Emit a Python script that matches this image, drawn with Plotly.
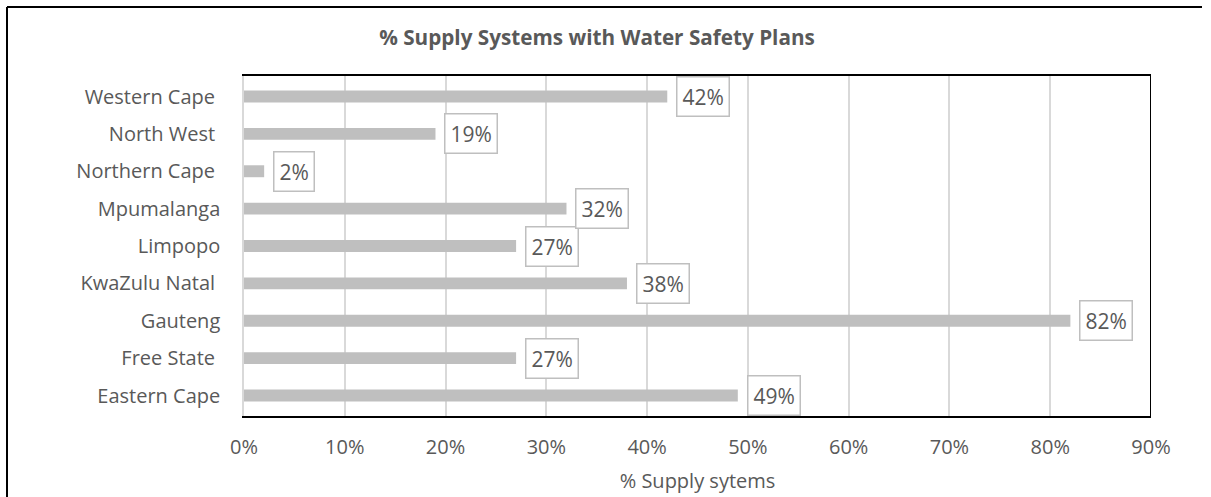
import plotly.graph_objects as go

# Provinces listed bottom-to-top as they appear on the horizontal bar chart
provinces = ["Eastern Cape", "Free State\u00a0", "Gauteng", "KwaZulu Natal\u00a0", "Limpopo",
             "Mpumalanga", "Northern Cape\u00a0", "North West\u00a0", "Western Cape\u00a0"]
share_with_wsp = [0.49, 0.27, 0.82, 0.38, 0.27, 0.32, 0.02, 0.19, 0.42]
x_ticks = [0.0, 0.1, 0.2, 0.3, 0.4, 0.5, 0.6, 0.7, 0.8, 0.9]

TEXT = "#595959"
FONT = "Open Sans"
W, H = 1211, 497
ML, MR, MT, MB = 244, 60, 76, 81
PW, PH = W - ML - MR, H - MT - MB

fig = go.Figure()
fig.add_trace(go.Bar(
    x=share_with_wsp, y=provinces, orientation="h",
    marker=dict(color="#BFBFBF", line=dict(width=0)),
    hoverinfo="skip",
))

# Boxed value labels next to each bar end
for val, prov in zip(share_with_wsp, provinces):
    fig.add_annotation(
        x=val, y=prov, xref="x", yref="y",
        text=f"{round(val * 100)}%", showarrow=False,
        xanchor="left", yanchor="middle", xshift=9,
        font=dict(family=FONT, size=21, color=TEXT),
        bgcolor="white", bordercolor="#BFBFBF", borderwidth=1.5, borderpad=5,
    )

# Right edge of the plot frame
fig.add_shape(type="line", xref="x", yref="paper", x0=0.9, x1=0.9, y0=0, y1=1,
              line=dict(color="black", width=2), layer="above")

# Outer chart frame (left and top edges)
frame_left = (7 - ML) / PW
frame_right = (1202 - ML) / PW
frame_top = 1 + (MT - 7) / PH
frame_bottom = -MB / PH
fig.add_shape(type="line", xref="paper", yref="paper",
              x0=frame_left, x1=frame_left, y0=frame_bottom, y1=frame_top,
              line=dict(color="black", width=2), layer="above")
fig.add_shape(type="line", xref="paper", yref="paper",
              x0=frame_left, x1=frame_right, y0=frame_top, y1=frame_top,
              line=dict(color="black", width=2), layer="above")

fig.update_layout(
    width=W, height=H,
    margin=dict(l=ML, r=MR, t=MT, b=MB),
    paper_bgcolor="white", plot_bgcolor="white",
    bargap=0.68, showlegend=False,
    title=dict(text="<b>% Supply Systems with Water Safety Plans</b>",
               x=597 / W, xref="container", xanchor="center",
               y=1 - 38 / H, yref="container", yanchor="middle",
               font=dict(family=FONT, size=20.7, color=TEXT)),
    xaxis=dict(range=[0, 0.9], tickvals=x_ticks, tickformat=".0%",
               automargin=False,
               showgrid=True, gridcolor="#D9D9D9", gridwidth=1.5,
               showline=True, linecolor="black", linewidth=2, mirror=True,
               zeroline=False, ticks="", ticklabelstandoff=12,
               tickfont=dict(family=FONT, size=20, color=TEXT),
               title=dict(text="% Supply sytems", standoff=15,
                          font=dict(family=FONT, size=20, color=TEXT))),
    yaxis=dict(showline=True, linecolor="#D9D9D9", linewidth=1.5,
               automargin=False,
               showgrid=False, zeroline=False, ticks="", ticklabelstandoff=18,
               tickfont=dict(family=FONT, size=20, color=TEXT)),
)

fig.write_html("out.html")
